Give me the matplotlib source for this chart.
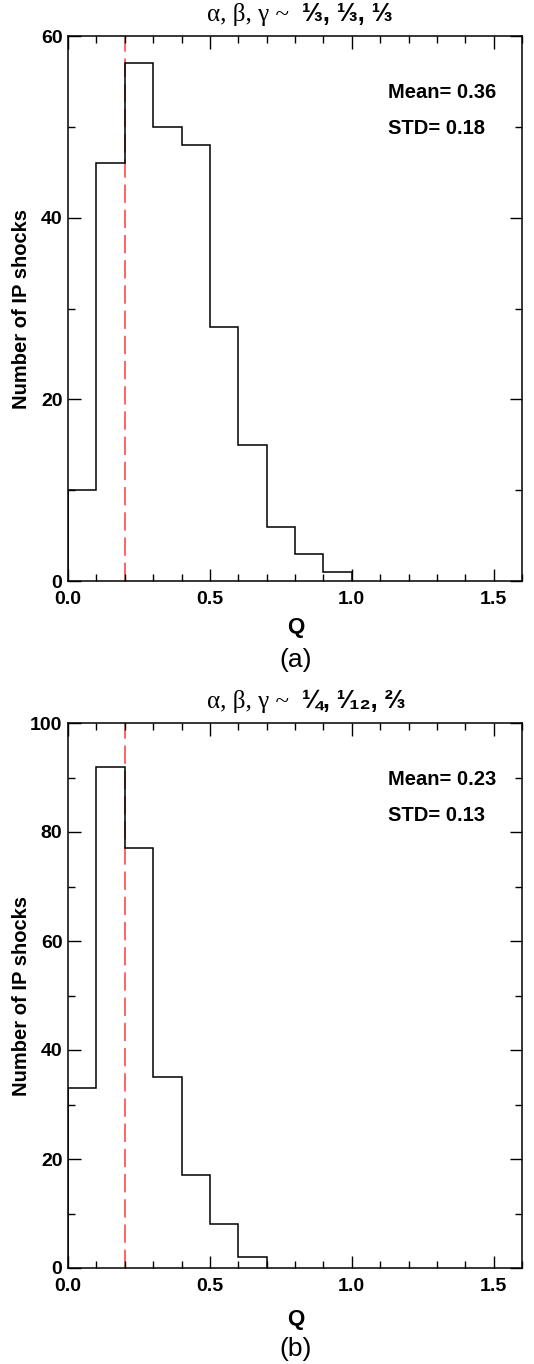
import matplotlib

matplotlib.use("Agg")
import matplotlib.pyplot as plt
from matplotlib.ticker import MultipleLocator

# histogram counts of Q, bins of width 0.1
edges_a = [0.0, 0.1, 0.2, 0.3, 0.4, 0.5, 0.6, 0.7, 0.8, 0.9, 1.0]
counts_a = [10, 46, 57, 50, 48, 28, 15, 6, 3, 1]
edges_b = [0.0, 0.1, 0.2, 0.3, 0.4, 0.5, 0.6, 0.7]
counts_b = [33, 92, 77, 35, 17, 8, 2]

greek = "α, β, γ ~"
fracs_a = "⅓, ⅓, ⅓"
fracs_b = "¼, ¹⁄₁₂, ⅔"
stats_a = ["Mean= 0.36", "STD= 0.18"]
stats_b = ["Mean= 0.23", "STD= 0.13"]
q_threshold = 0.2

SANS = ["Liberation Sans", "DejaVu Sans"]
plt.rcParams["font.family"] = SANS

fig = plt.figure(figsize=(5.34, 13.64), dpi=100)
W, H = 534, 1364


def panel(box, edges, counts, ymax, fracs, stats, q_y, tag, tag_y):
    left, top, right, bottom = box
    ax = fig.add_axes([left / W, 1 - bottom / H, (right - left) / W, (bottom - top) / H])
    ax.stairs(counts, edges, color="black", lw=1.1)
    ax.axvline(q_threshold, color="#ff3a3a", lw=1.1, ls=(0, (12, 4.5)), zorder=0)
    ax.set_xlim(0, 1.6)
    ax.set_ylim(0, ymax)
    ax.xaxis.set_major_locator(MultipleLocator(0.5))
    ax.xaxis.set_minor_locator(MultipleLocator(0.1))
    ax.yaxis.set_major_locator(MultipleLocator(20))
    ax.yaxis.set_minor_locator(MultipleLocator(10))
    ax.tick_params(which="both", direction="in", top=True, right=True, width=1)
    ax.tick_params(which="major", length=9, labelsize=14)
    ax.tick_params(axis="x", which="major", pad=7.5)
    ax.tick_params(axis="y", which="major", pad=4)
    ax.tick_params(which="minor", length=5)
    ax.xaxis.set_major_formatter(lambda v, p: f"{v:.1f}")
    ax.yaxis.set_major_formatter(lambda v, p: f"{v:.0f}")
    for lab in ax.get_xticklabels() + ax.get_yticklabels():
        lab.set_fontweight("bold")
    for s in ax.spines.values():
        s.set_linewidth(1.1)
    ax.set_ylabel("Number of IP shocks", fontsize=14.5, fontweight="bold")
    ax.yaxis.set_label_coords(-0.082, 0.5)
    ax.text(0.705, 0.897, stats[0], transform=ax.transAxes, fontsize=14.5,
            fontweight="bold", va="center")
    ax.text(0.705, 0.83, stats[1], transform=ax.transAxes, fontsize=14.5,
            fontweight="bold", va="center")
    # title: serif greek letters + bold sans fractions
    ax.text(0.50, 1.018, greek + " ", transform=ax.transAxes, ha="right", va="bottom",
            fontsize=18, family=["Liberation Serif", "DejaVu Serif"])
    ax.text(0.50, 1.018, " " + fracs, transform=ax.transAxes, ha="left", va="bottom",
            fontsize=18, fontweight="bold", family=SANS)
    fig.text(296 / W, 1 - q_y / H, "Q", ha="center", va="center", fontsize=16,
             fontweight="bold")
    fig.text(296 / W, 1 - tag_y / H, tag, ha="center", va="center", fontsize=19)
    return ax


panel((68, 36, 522, 581), edges_a, counts_a, 60, fracs_a, stats_a, 627, "(a)", 660)
panel((68, 723, 522, 1268), edges_b, counts_b, 100, fracs_b, stats_b, 1319, "(b)", 1349)

fig.savefig("out.png", dpi=100)
